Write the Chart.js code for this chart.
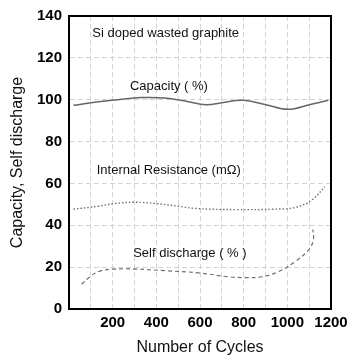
<!DOCTYPE html>
<html>
<head>
<meta charset="utf-8">
<script src="https://cdn.jsdelivr.net/npm/chart.js@4/dist/chart.umd.min.js"></script>
<style>
  html, body { margin: 0; padding: 0; background: #fff; }
  #wrap { width: 356px; height: 360px; }
</style>
</head>
<body>
<div id="wrap"><canvas id="c" width="356" height="360"></canvas></div>
<script>
// ---- data ----
const capacityCycles = [20, 100, 195, 333, 440, 531, 630, 700, 798, 898, 1004, 1104, 1188];
const capacityValues = [97.3, 98.5, 99.7, 101.0, 100.8, 99.4, 97.6, 98.6, 99.7, 97.7, 95.4, 97.7, 99.7];

const resistanceCycles = [20, 134, 211, 302, 394, 501, 585, 760, 943, 1035, 1111, 1172];
const resistanceValues = [47.7, 49.1, 50.4, 51.0, 50.4, 49.1, 48.0, 47.5, 47.7, 48.5, 52.0, 58.4];

const dischargeCycles = [58, 96, 142, 211, 302, 440, 592, 730, 815, 883, 959, 1035, 1096, 1119, 1117];
const dischargeValues = [11.8, 15.4, 18.1, 19.1, 19.1, 18.3, 17.3, 15.4, 15.0, 15.4, 17.8, 22.6, 28.1, 32.9, 38.0];

const xTickLabels = [200, 400, 600, 800, 1000, 1200];
const noteTexts = ['Si doped wasted graphite', 'Capacity ( %)', 'Internal Resistance (mΩ)', 'Self discharge ( % )'];

const FONT = '"Liberation Sans", Arial, sans-serif';

function pts(xs, ys) { return xs.map((x, i) => ({ x: x, y: ys[i] })); }

const boxPlugin = {
  id: 'box',
  afterDatasetsDraw(chart) {
    const { ctx, chartArea: a } = chart;
    ctx.save();
    ctx.setLineDash([]);
    ctx.strokeStyle = '#000';
    ctx.lineWidth = 2;
    ctx.strokeRect(a.left, a.top, a.right - a.left, a.bottom - a.top);
    ctx.restore();
  }
};

const notesPlugin = {
  id: 'notes',
  afterDatasetsDraw(chart, args, opts) {
    const { ctx, scales } = chart;
    ctx.save();
    ctx.font = opts.font;
    ctx.fillStyle = opts.color;
    ctx.textAlign = 'left';
    ctx.textBaseline = 'middle';
    opts.items.forEach((it, i) => {
      ctx.fillText(noteTexts[i], scales.x.getPixelForValue(it.x), scales.y.getPixelForValue(it.y));
    });
    ctx.restore();
  }
};

new Chart(document.getElementById('c'), {
  type: 'line',
  data: {
    datasets: [
      {
        label: 'Capacity',
        data: pts(capacityCycles, capacityValues),
        borderColor: '#666666',
        borderWidth: 1.5,
        pointRadius: 0,
        tension: 0.4,
        fill: false
      },
      {
        label: 'Internal Resistance',
        data: pts(resistanceCycles, resistanceValues),
        borderColor: '#707070',
        borderWidth: 1.4,
        borderDash: [1.5, 2],
        pointRadius: 0,
        tension: 0.4,
        fill: false
      },
      {
        label: 'Self discharge',
        data: pts(dischargeCycles, dischargeValues),
        borderColor: '#707070',
        borderWidth: 1.2,
        borderDash: [4, 3],
        pointRadius: 0,
        tension: 0.4,
        fill: false
      }
    ]
  },
  options: {
    responsive: false,
    animation: false,
    devicePixelRatio: 1,
    layout: { padding: { top: 15, right: 25, left: 0, bottom: 0 } },
    plugins: {
      legend: { display: false },
      tooltip: { enabled: false },
      notes: {
        font: '13px ' + FONT,
        color: '#111',
        items: [
          { x: 107, y: 131.7 },
          { x: 279, y: 106.5 },
          { x: 127, y: 66 },
          { x: 294, y: 26.6 }
        ]
      }
    },
    scales: {
      x: {
        type: 'linear',
        min: 0,
        max: 1200,
        afterFit(scale) { scale.height = 51; },
        ticks: {
          stepSize: 100,
          autoSkip: false,
          maxRotation: 0,
          padding: 5,
          color: '#000',
          font: { family: FONT, size: 15, weight: 'bold' },
          callback: (v) => xTickLabels.includes(v) ? String(v) : ''
        },
        grid: { color: '#d4d4d4', lineWidth: 1, drawTicks: false },
        border: { display: true, color: '#000', width: 2, dash: [5, 3] },
        title: {
          display: true,
          text: 'Number of Cycles',
          color: '#111',
          font: { family: FONT, size: 16 },
          padding: { top: 0, bottom: 3 }
        }
      },
      y: {
        min: 0,
        max: 140,
        afterFit(scale) { scale.width = 69; },
        ticks: {
          stepSize: 20,
          padding: 7,
          color: '#000',
          font: { family: FONT, size: 15, weight: 'bold' }
        },
        grid: { color: '#d4d4d4', lineWidth: 1, drawTicks: false },
        border: { display: true, color: '#000', width: 2, dash: [5, 3] },
        title: {
          display: true,
          text: 'Capacity, Self discharge',
          color: '#111',
          font: { family: FONT, size: 16 },
          padding: { top: 8, bottom: 0 }
        }
      }
    }
  },
  plugins: [boxPlugin, notesPlugin]
});
</script>
</body>
</html>
